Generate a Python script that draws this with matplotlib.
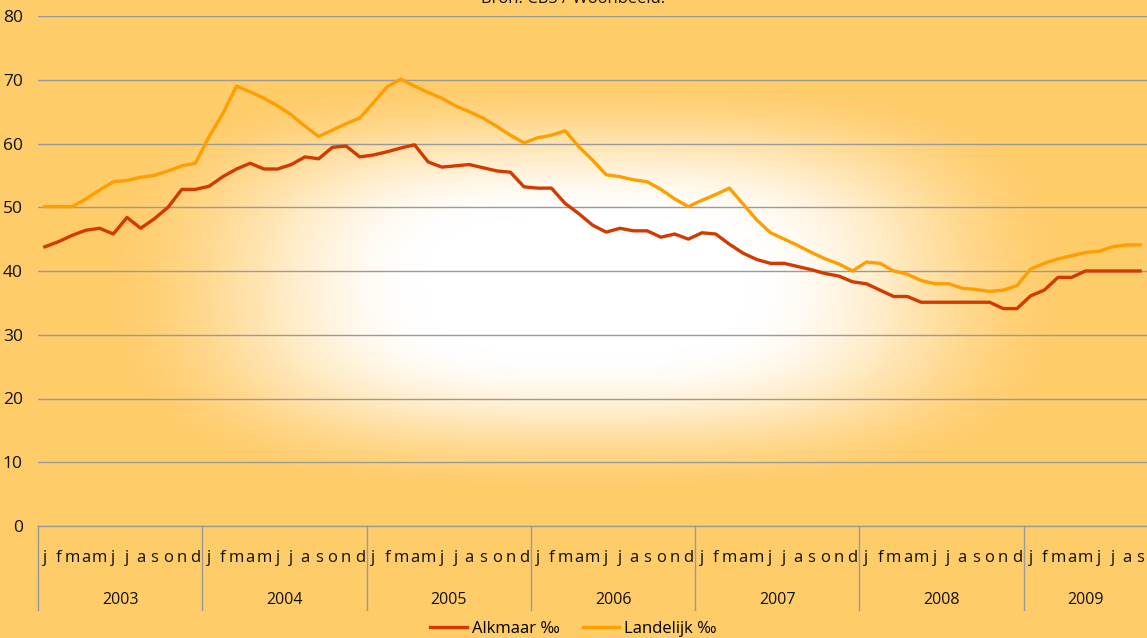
import numpy as np
import matplotlib
matplotlib.use("Agg")
import matplotlib.pyplot as plt
import matplotlib.transforms as mtransforms

# ---------------- data ----------------
years = ["2003", "2004", "2005", "2006", "2007", "2008", "2009"]
months_per_year = [12, 12, 12, 12, 12, 12, 9]
month_letters = ["j", "f", "m", "a", "m", "j", "j", "a", "s", "o", "n", "d"]

alkmaar = [
    43.8, 44.6, 45.6, 46.4, 46.7, 45.8, 48.4, 46.7, 48.2, 50.0, 52.8, 52.8,   # 2003
    53.3, 54.8, 56.0, 56.9, 56.0, 56.0, 56.7, 57.9, 57.6, 59.4, 59.6, 57.9,   # 2004
    58.2, 58.7, 59.3, 59.8, 57.1, 56.3, 56.5, 56.7, 56.2, 55.7, 55.5, 53.2,   # 2005
    53.0, 53.0, 50.6, 49.0, 47.2, 46.1, 46.7, 46.3, 46.3, 45.3, 45.8, 45.0,   # 2006
    46.0, 45.8, 44.2, 42.8, 41.8, 41.2, 41.2, 40.7, 40.2, 39.6, 39.2, 38.3,   # 2007
    38.0, 37.0, 36.0, 36.0, 35.1, 35.1, 35.1, 35.1, 35.1, 35.1, 34.1, 34.1,   # 2008
    36.1, 37.0, 39.0, 39.0, 40.0, 40.0, 40.0, 40.0, 40.0,                     # 2009
]
landelijk = [
    50.1, 50.1, 50.1, 51.3, 52.7, 54.0, 54.2, 54.7, 55.0, 55.7, 56.5, 56.9,   # 2003
    61.1, 64.7, 69.0, 68.1, 67.1, 65.9, 64.5, 62.7, 61.1, 62.1, 63.1, 64.0,   # 2004
    66.4, 68.9, 70.1, 69.0, 68.0, 67.1, 65.9, 65.0, 64.0, 62.7, 61.3, 60.1,   # 2005
    60.9, 61.3, 62.0, 59.5, 57.4, 55.1, 54.8, 54.3, 54.0, 52.8, 51.3, 50.1,   # 2006
    51.1, 52.0, 53.0, 50.5, 48.0, 46.0, 45.0, 44.0, 42.9, 41.9, 41.1, 40.0,   # 2007
    41.4, 41.2, 40.0, 39.5, 38.5, 38.0, 38.0, 37.3, 37.1, 36.8, 37.0, 37.7,   # 2008
    40.3, 41.2, 41.9, 42.4, 42.9, 43.1, 43.8, 44.1, 44.1,                     # 2009
]
series_names = ["Alkmaar \u2030", "Landelijk \u2030"]
y_ticks = [0, 10, 20, 30, 40, 50, 60, 70, 80]
title_text = "Bron: CBS / Woonbeeld."

# ---------------- style ----------------
FONT = ["Open Sans", "DejaVu Sans"]
plt.rcParams["font.family"] = FONT
RED = "#D23A00"
ORANGE = "#FF9E00"
BG_EDGE = np.array([255, 204, 106]) / 255.0
GRID = "#9a9a9a"
TXT = "#111111"

W, H = 1147, 638
fig = plt.figure(figsize=(W / 100, H / 100), dpi=100)

# background: soft rounded-rectangle gradient, white in the centre
bg = fig.add_axes([0, 0, 1, 1], zorder=-10)
yy, xx = np.mgrid[0:H, 0:W]
cx, cy = 585.0, 285.0
p = 3.0
t = ((np.abs(xx - cx) / 500.0) ** p + (np.abs(yy - cy) / 215.0) ** p) ** (1 / p)
t = np.clip((t - 0.32) / 0.66, 0, 1)
t = t * t * (3 - 2 * t)
img = (1 - t)[..., None] * np.ones(3) + t[..., None] * BG_EDGE
bg.imshow(img, aspect="auto", extent=[0, W, H, 0], interpolation="bilinear")
bg.set_xlim(0, W)
bg.set_ylim(H, 0)
bg.axis("off")

# main axes
ax_left = 38 / W
ax_bottom = 1 - 526 / H
ax_h = (526 - 16) / H
ax = fig.add_axes([ax_left, ax_bottom, 1 - ax_left, ax_h])
ax.patch.set_alpha(0)

n = len(alkmaar)
x = np.arange(n)
ax.plot(x, alkmaar, color=RED, lw=2.4, label=series_names[0], zorder=3)
ax.plot(x, landelijk, color=ORANGE, lw=2.4, label=series_names[1], zorder=3)

ax.set_xlim(-0.5, n - 0.5)
ax.set_ylim(0, 80)
ax.set_yticks(y_ticks)
ax.set_yticklabels([str(v) for v in y_ticks], fontsize=12.5, color=TXT)
ax.tick_params(axis="y", length=0, pad=11)
ax.set_xticks([])
for s in ["top", "right", "left"]:
    ax.spines[s].set_visible(False)
ax.spines["bottom"].set_color(GRID)
ax.spines["bottom"].set_linewidth(1.0)
ax.yaxis.grid(True, color=GRID, lw=1.0)
ax.set_axisbelow(True)

# category axis: month letters, year labels, separators
trans = mtransforms.blended_transform_factory(ax.transData, ax.transAxes)
sep_bottom = -(610 - 526) / (526 - 16)
month_y = -(558 - 526) / (526 - 16)
year_y = -(600 - 526) / (526 - 16)
start = 0
bounds = [-0.5]
for yr, nm in zip(years, months_per_year):
    for k in range(nm):
        ax.text(start + k, month_y, month_letters[k], transform=trans, ha="center",
                va="center", fontsize=12, color=TXT, clip_on=False)
    ax.text(start + (nm - 1) / 2, year_y, yr, transform=trans, ha="center",
            va="center", fontsize=11.5, color=TXT, clip_on=False)
    start += nm
    bounds.append(start - 0.5)
for b in bounds[:-1]:
    ax.plot([b, b], [0, sep_bottom], transform=trans, color=GRID, lw=1.0, clip_on=False)

# legend
fig.legend(loc="center", bbox_to_anchor=(0.5, 1 - 629 / H), ncol=2, frameon=False,
           fontsize=12, handlelength=2.2, handletextpad=0.3, columnspacing=1.4)

# clipped title at top (cut off in the original crop)
fig.text(0.5, 1 + 1 / H, title_text, ha="center", va="center", fontsize=12, color=TXT)

fig.savefig("out.png", dpi=100)
